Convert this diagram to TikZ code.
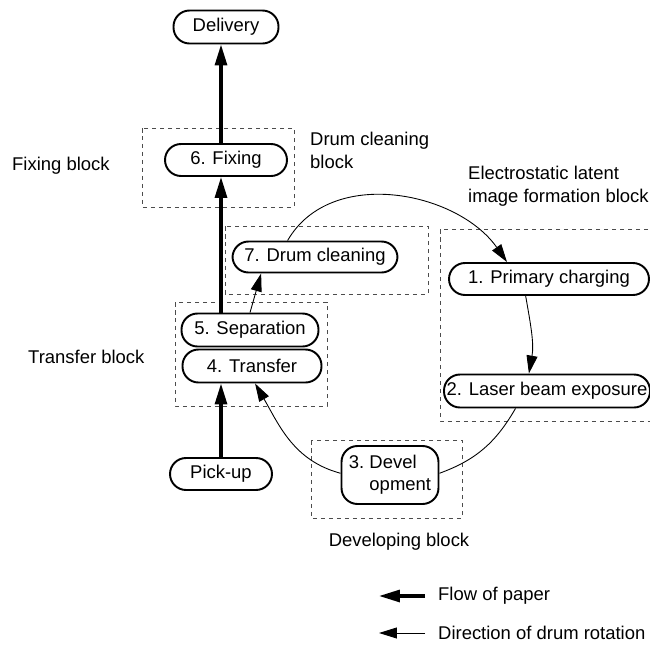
\documentclass[tikz,border=0pt]{standalone}
\usepackage{fontspec}
\setmainfont{Liberation Sans}
\usetikzlibrary{arrows.meta}

\begin{document}
\begin{tikzpicture}[x=0.02cm,y=-0.02cm,font=\fontsize{10.5}{13}\selectfont,
  stepnode/.style={draw,line width=1.1pt,rounded corners=0.32cm,inner sep=1pt,align=center},
  blockbox/.style={draw=black!70,line width=0.5pt,dash pattern=on 0.09cm off 0.07cm},
  paper/.style={line width=1.8pt,-{Triangle[length=0.42cm,width=0.24cm]}},
  drum/.style={line width=0.5pt,-{Triangle[length=0.36cm,width=0.22cm]}}]
\useasboundingbox (0,0) rectangle (650,646);

\draw[blockbox] (142,128) rectangle (294,207);
\draw[blockbox] (225,226) rectangle (428,294);
\draw[blockbox] (175,302) rectangle (327,406);
\draw[blockbox] (440,229) rectangle (660,421);
\draw[blockbox] (311,440) rectangle (462,518);

\node[stepnode,minimum width=2.1cm,minimum height=0.66cm] (delivery) at (226,27) {Delivery};
\node[stepnode,minimum width=2.44cm,minimum height=0.64cm] (fixing) at (226,160) {6. Fixing};
\node[stepnode,minimum width=3.3cm,minimum height=0.62cm] (clean) at (315,257) {7. Drum cleaning};
\node[stepnode,minimum width=2.74cm,minimum height=0.66cm] (sep) at (250,330) {5. Separation};
\node[stepnode,minimum width=2.78cm,minimum height=0.66cm] (transfer) at (252,366) {4. Transfer};
\node[stepnode,minimum width=2.04cm,minimum height=0.64cm] (pickup) at (221,474) {Pick-up};
\node[stepnode,minimum width=4.0cm,minimum height=0.64cm] (primary) at (549,279) {1. Primary charging};
\node[stepnode,minimum width=4.12cm,minimum height=0.66cm,inner xsep=0pt] (laser) at (547,391) {2. Laser beam exposure};
\node[stepnode,minimum width=1.94cm,minimum height=1.16cm] (dev) at (390,475)
  {\begin{tabular}{@{}l@{\ }l@{}}3. & Devel\\ & opment\end{tabular}};

\draw[paper] (pickup) -- (transfer.south -| pickup);
\draw[paper] (sep.north -| pickup) -- (fixing.south -| pickup);
\draw[paper] (fixing.north -| pickup) -- (delivery.south -| pickup);

\draw[drum] (sep.north) -- (clean.197);
\draw[drum] (clean.149) to[out=60,in=125] (primary.158);
\draw[drum] (primary.216) to[out=-80,in=80] (laser.136);
\draw[line width=0.5pt] (laser.209) to[out=-120,in=20] (dev.2);
\draw[drum] (dev.178) to[out=165,in=-60] (transfer.280);

\node[right] (fixlbl) at (6,166) {Fixing block};
\node[right] (translbl) at (22,357) {Transfer block};
\node[right,align=left] (cleanlbl) at (304,150) {Drum cleaning\\block};
\node[right,align=left] (latentlbl) at (462,186) {Electrostatic latent\\image formation block};
\node (devlbl) at (399,542) {Developing block};

\coordinate (paperA) at (425,596);
\coordinate (paperB) at (379,596);
\coordinate (drumA) at (425,633);
\coordinate (drumB) at (379,633);
\draw[paper] (paperA) -- (paperB);
\draw[drum] (drumA) -- (drumB);
\node[right] (paperlbl) at (432,596) {Flow of paper};
\node[right] (drumlbl) at (432,633) {Direction of drum rotation};
\end{tikzpicture}
\end{document}
